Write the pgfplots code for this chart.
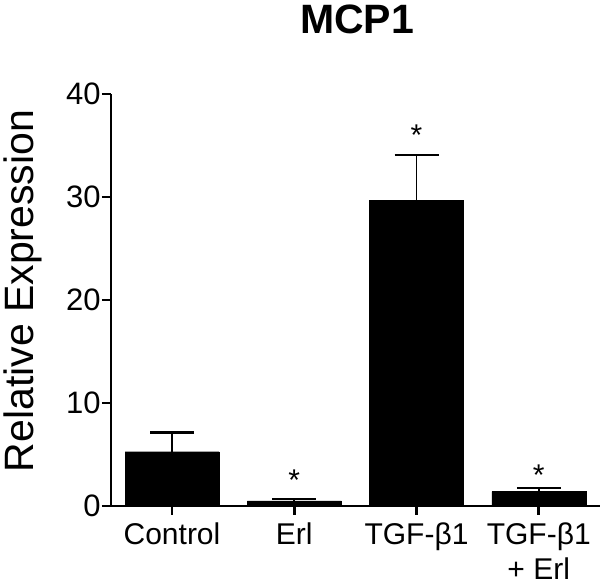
\documentclass[border=0pt]{standalone}
\usepackage{pgfplots}
\pgfplotsset{compat=1.18}
\usepackage{fontspec}
\setmainfont{Liberation Sans}

\begin{document}
\begin{tikzpicture}[x=1pt,y=1pt]
\useasboundingbox (0,0) rectangle (600,588);
\begin{axis}[
  at={(172pt,82pt)}, anchor=origin,
  scale only axis,
  width=489pt, height=412pt,
  xmin=-0.5, xmax=3.5,
  ymin=0, ymax=40,
  axis x line*=bottom, axis y line*=left,
  axis line style={line width=2.6pt},
  xtick={0,1,2,3},
  xticklabels={Control,Erl,TGF-β1,{TGF-β1\\+ Erl}},
  xticklabel style={align=center, anchor=north, inner sep=0pt, yshift=-8pt,
    font=\fontsize{30}{35}\selectfont},
  ytick={0,10,20,30,40},
  yticklabel style={font=\fontsize{31}{34}\selectfont, inner sep=1pt},
  /pgf/number format/assume math mode=true,
  tick align=outside,
  major tick length=9pt,
  tick style={line width=2.6pt, black},
  clip=false,
]
\addplot[ybar, bar width=94pt, fill=black, draw=black,
  error bars/.cd, y dir=plus, y explicit,
  error bar style={line width=1.8pt},
  error mark options={rotate=90, mark size=22pt, line width=2.4pt}]
  coordinates {
  (0,5.27) +- (0,1.85)
  (1,0.5) +- (0,0.2)
  (2,29.7) +- (0,4.4)
  (3,1.4) +- (0,0.35)
};
\node[font=\fontsize{30}{30}\selectfont] at (axis cs:1,2.5) {*};
\node[font=\fontsize{30}{30}\selectfont] at (axis cs:2,36.0) {*};
\node[font=\fontsize{30}{30}\selectfont] at (axis cs:3,3.0) {*};
\end{axis}
\node[anchor=base, font=\fontsize{41}{44}\selectfont\bfseries] at (357,554) {MCP1};
\node[anchor=base, rotate=90, inner sep=0pt, font=\fontsize{41}{44}\selectfont] at (33,297) {Relative Expression};
\end{tikzpicture}
\end{document}
